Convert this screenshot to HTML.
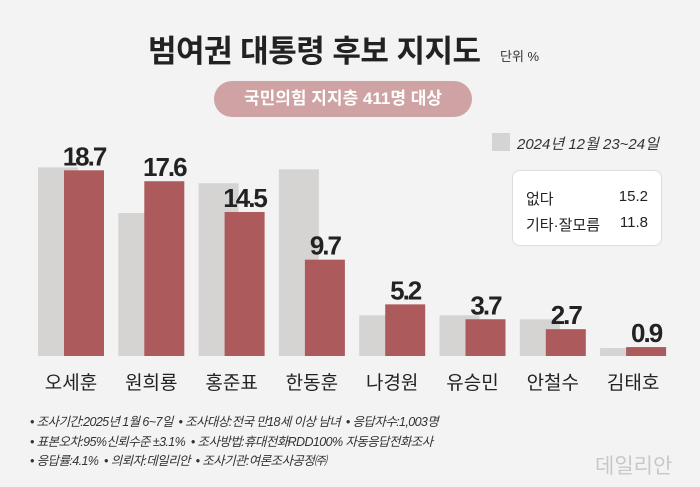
<!DOCTYPE html>
<html><head><meta charset="utf-8"><style>
body{margin:0;width:700px;height:487px;background:#f3f3f3;font-family:"Liberation Sans","Noto Sans CJK KR",sans-serif;position:relative;overflow:hidden}
.a{position:absolute;white-space:nowrap}
</style></head><body>
<div class="a" style="left:148px;top:26px;font-size:31px;font-weight:bold;color:#222;letter-spacing:-0.5px">범여권 대통령 후보 지지도</div>
<div class="a" style="left:500px;top:46px;font-size:13px;color:#333">단위 %</div>
<div class="a" style="left:214px;top:81px;width:258px;height:36px;border-radius:18px;background:#cfa3a3;color:#fff;font-size:17px;font-weight:bold;text-align:center;line-height:36px">국민의힘 지지층 411명 대상</div>
<div class="a" style="left:492px;top:133px;width:18px;height:18px;background:#d6d3d3"></div>
<div class="a" style="left:517px;top:133px;font-size:15px;font-style:italic;color:#333">2024년 12월 23~24일</div>
<div class="a" style="left:512px;top:170px;width:148px;height:74px;background:#fff;border:1px solid #ddd;border-radius:8px;font-size:15px;color:#222">
<div class="a" style="left:13px;top:17px">없다</div><div class="a" style="right:13px;top:17px">15.2</div>
<div class="a" style="left:13px;top:43px">기타·잘모름</div><div class="a" style="right:13px;top:43px">11.8</div></div>
<svg id="c" class="a" style="left:0;top:0" width="700" height="400"></svg>
<div class="a" style="left:30px;top:413px;font-size:12.5px;color:#333;line-height:19.5px;letter-spacing:-0.6px;font-style:italic">
• 조사기간:2025년 1월 6~7일 &nbsp;• 조사대상:전국 만18세 이상 남녀 &nbsp;• 응답자수:1,003명<br>
• 표본오차:95%신뢰수준 ±3.1% &nbsp;• 조사방법:휴대전화RDD100% 자동응답전화조사<br>
• 응답률:4.1% &nbsp;• 의뢰자:데일리안 &nbsp;• 조사기관:여론조사공정㈜</div>
<div class="a" style="left:595px;top:450px;font-size:21px;color:#c8c8c8">데일리안</div>
<script>
const names=["오세훈","원희룡","홍준표","한동훈","나경원","유승민","안철수","김태호"];
const current=[18.7,17.6,14.5,9.7,5.2,3.7,2.7,0.9];
const previous=[19.0,14.4,17.4,18.8,4.1,4.1,3.7,0.8];
const svg=document.getElementById('c');const NS="http://www.w3.org/2000/svg";
const base=356,k=9.93;
const y=v=>base-v*k;
function mk(t,a){const e=document.createElementNS(NS,t);for(const n in a)e.setAttribute(n,a[n]);svg.appendChild(e);return e;}
names.forEach((n,i)=>{const gx=38+i*80.3;
let g=mk('rect',{x:gx,y:y(previous[i]),width:40,height:previous[i]*k,fill:'#d6d3d3'});


let r=mk('rect',{x:gx+26,y:y(current[i]),width:40,height:current[i]*k,fill:'#ad5a5c'});


let v=mk('text',{x:gx+46,y:y(current[i])-5,'text-anchor':'middle','font-size':26,'font-weight':'bold',fill:'#222','letter-spacing':'-2'});
v.textContent=current[i].toFixed(1);


let t=mk('text',{x:gx+33,y:389,'text-anchor':'middle','font-size':19,fill:'#222'});
t.textContent=n;


});
</script>
</body></html>
